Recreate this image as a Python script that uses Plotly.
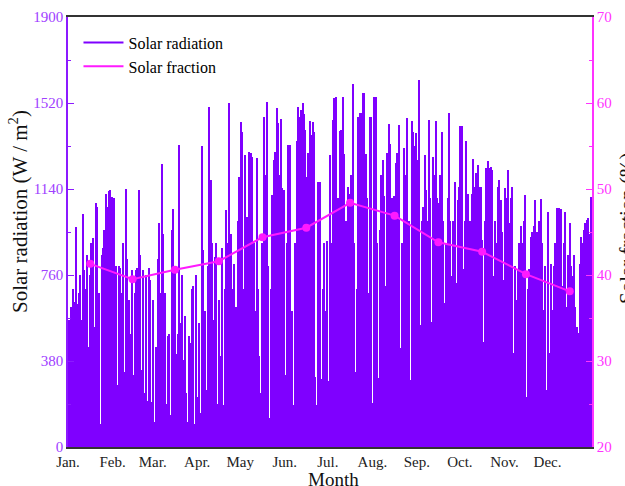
import plotly.graph_objects as go

# Daily peak solar radiation (W/m2), month by month
jan = [560, 520, 620, 700, 640, 970, 630, 680, 760, 560, 1030, 780, 700, 850, 440, 760, 900, 925, 530, 1080,
       1060, 680, 100, 850, 880, 960, 1120, 1060, 1130, 1135, 1105]
feb = [1080, 1100, 800, 275, 800, 790, 680, 900, 330, 1140, 830, 650, 500, 780, 320, 680, 780, 790, 1135, 850,
       340, 780, 237, 760, 205, 790, 740, 200]
mar = [650, 110, 440, 830, 990, 680, 1250, 940, 680, 190, 490, 500, 140, 960, 1050, 780, 410, 500, 1335, 550,
       760, 384, 580, 240, 110, 490, 460, 700, 710, 100, 760]
apr = [220, 550, 150, 1330, 870, 600, 250, 800, 1502, 1180, 900, 560, 840, 900, 190, 650, 400, 880, 186, 700,
       1047, 900, 1520, 940, 700, 810, 490, 620, 1000, 1195]
may = [1436, 1392, 700, 1290, 1018, 265, 1305, 1300, 1283, 900, 600, 1275, 700, 400, 237, 900, 1460, 1200, 1525, 800,
       126, 700, 1114, 1270, 1305, 1500, 1430, 1200, 1450, 1145, 1136]
jun = [318, 900, 1334, 1335, 265, 600, 186, 900, 1350, 1503, 1460, 1490, 1520, 1470, 1400, 1195, 1300, 1440, 1380, 1436,
       1393, 309, 186, 1170, 1171, 300, 700, 900, 600, 910]
jul = [290, 1290, 900, 1445, 1540, 1547, 290, 1100, 1395, 1401, 1547, 1296, 1000, 826, 1150, 1120, 1200, 1604, 900, 330,
       700, 1460, 1475, 1475, 1563, 1564, 1296, 1100, 680, 1456, 1460]
aug = [194, 1547, 1547, 900, 305, 960, 1200, 1268, 1110, 710, 1300, 1427, 1340, 1100, 710, 1110, 1253, 1300, 1425, 437,
       900, 605, 1320, 1200, 1453, 1000, 296, 1440, 1390, 1330, 1386]
sep = [1268, 1622, 539, 1000, 1062, 1290, 1136, 1000, 1445, 1100, 552, 1283, 1200, 1440, 1100, 1077, 1200, 1393, 1000, 636,
       900, 1100, 1475, 1000, 755, 1000, 1170, 725, 1090, 1150]
oct_ = [1420, 1419, 785, 1000, 1350, 1120, 826, 1000, 1120, 1272, 1150, 1210, 1246, 1150, 1150, 915, 464, 1000, 1234, 1264,
        1234, 1237, 1226, 755, 1000, 900, 1150, 1180, 1090, 950, 740]
nov = [1145, 1100, 1224, 990, 1100, 1150, 415, 800, 650, 785, 900, 975, 900, 1000, 1114, 221, 700, 785, 930, 950,
       975, 1091, 950, 665, 1000, 1095, 900, 605, 800, 250]
dec = [1040, 415, 810, 605, 800, 900, 1056, 800, 1055, 1050, 710, 900, 1040, 620, 850, 990, 800, 755, 850, 620,
       530, 504, 810, 930, 900, 959, 990, 1005, 1012, 940, 1105]

radiation = jan + feb + mar + apr + may + jun + jul + aug + sep + oct_ + nov + dec
days = [d + 0.5 for d in range(len(radiation))]

month_labels = ["Jan.", "Feb.", "Mar.", "Apr.", "May", "Jun.", "Jul.", "Aug.", "Sep.", "Oct.", "Nov.", "Dec."]
month_lengths = [31, 28, 31, 30, 31, 30, 31, 31, 30, 31, 30, 31]
month_starts = [sum(month_lengths[:i]) for i in range(12)]
month_mids = [s + n / 2 for s, n in zip(month_starts, month_lengths)]

# Monthly solar fraction (%)
solar_fraction = [41.3, 39.5, 40.6, 41.6, 44.4, 45.5, 48.4, 46.9, 43.8, 42.7, 40.1, 38.1]

PURPLE = "#7F00FF"
MAGENTA = "#FF1AFF"
SERIF = "Liberation Serif"

fig = go.Figure()
fig.add_trace(go.Bar(x=days, y=radiation, marker=dict(color=PURPLE, line=dict(width=0)),
                     showlegend=False, hoverinfo="skip"))
fig.add_trace(go.Scatter(x=month_mids, y=solar_fraction, yaxis="y2", mode="lines+markers",
                         line=dict(color=MAGENTA, width=2), marker=dict(size=8, color=MAGENTA),
                         showlegend=False))
# legend entries (line samples)
fig.add_trace(go.Scatter(x=[None], y=[None], mode="lines", name="Solar radiation",
                         line=dict(color=PURPLE, width=2)))
fig.add_trace(go.Scatter(x=[None], y=[None], mode="lines", name="Solar fraction",
                         line=dict(color=MAGENTA, width=2)))

fig.update_layout(
    width=625, height=486,
    margin=dict(l=68, r=33, t=17, b=39),
    paper_bgcolor="white", plot_bgcolor="white",
    bargap=0,
    font=dict(family=SERIF, size=15, color="black"),
    showlegend=True,
    legend=dict(x=0.02, y=0.98, xanchor="left", yanchor="top", bgcolor="rgba(0,0,0,0)",
                font=dict(family=SERIF, size=16, color="black"), itemwidth=40, tracegroupgap=0),
    xaxis=dict(range=[0, 365], tickmode="array", tickvals=month_starts, ticktext=month_labels,
               showline=True, linecolor="#333333", linewidth=1.5, mirror=True, ticks="",
               showgrid=False, zeroline=False,
               tickfont=dict(family=SERIF, size=15, color="#222222"),
               automargin=False),
    yaxis=dict(range=[0, 1900], tick0=0, dtick=380, showline=True, linecolor="#8C1AFF", linewidth=1.5,
               ticks="inside", ticklen=6, tickcolor="#8C1AFF",
               minor=dict(dtick=190, ticks="inside", ticklen=3, tickcolor="#8C1AFF"),
               showgrid=False, zeroline=False,
               tickfont=dict(family=SERIF, size=15, color="#A040FF"),
               automargin=False),
    yaxis2=dict(range=[20, 70], tick0=20, dtick=10, overlaying="y", side="right",
                showline=True, linecolor="#FF33FF", linewidth=1.5,
                ticks="inside", ticklen=6, tickcolor="#FF33FF",
                minor=dict(dtick=5, ticks="inside", ticklen=3, tickcolor="#FF33FF"),
                showgrid=False, zeroline=False,
                tickfont=dict(family=SERIF, size=15, color="#FF33FF"),
                automargin=False),
    annotations=[
        dict(text="Solar radiation (W / m<sup>2</sup>)", textangle=-90, xref="paper", yref="paper",
             x=(18 - 68) / 524, y=(447 - 212) / 430, xanchor="center", yanchor="middle",
             showarrow=False, font=dict(family=SERIF, size=21, color="#111111")),
        dict(text="Solar fraction (%)", textangle=-90, xref="paper", yref="paper",
             x=(627 - 68) / 524, y=(447 - 228) / 430, xanchor="center", yanchor="middle",
             showarrow=False, font=dict(family=SERIF, size=21, color="#111111")),
        dict(text="Month", xref="paper", yref="paper",
             x=(333 - 68) / 524, y=(447 - 479) / 430, xanchor="center", yanchor="middle",
             showarrow=False, font=dict(family=SERIF, size=19, color="#111111")),
    ],
)

fig.write_html("out.html")
